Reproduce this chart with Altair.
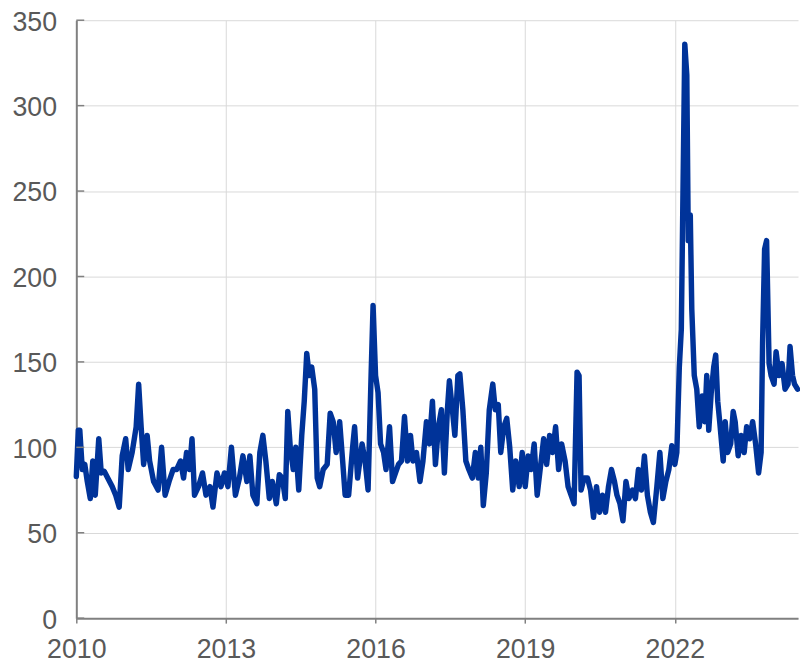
import altair as alt
import pandas as pd

# decimal years since 2010 and index values
t = [0.00,0.04,0.07,0.12,0.17,0.22,0.28,0.33,0.38,0.45,0.50,0.56,0.63,0.72,0.79,0.86,0.92,0.99,
     1.04,1.12,1.20,1.25,1.30,1.35,1.42,1.47,1.55,1.64,1.71,1.78,1.86,1.94,
     2.01,2.09,2.15,2.21,2.27,2.32,2.37,2.45,2.53,2.60,2.68,2.74,2.82,2.90,2.97,
     3.04,3.11,3.19,3.27,3.34,3.42,3.48,3.54,3.62,3.68,3.74,3.80,3.87,3.93,
     4.01,4.07,4.13,4.19,4.24,4.29,4.35,4.40,4.46,4.52,4.57,4.62,4.67,4.72,4.78,4.83,4.88,4.95,
     5.03,5.09,5.15,5.21,5.28,5.34,5.39,5.46,5.54,5.58,5.64,5.73,5.79,5.85,5.91,5.95,
     6.00,6.05,6.10,6.16,6.21,6.28,6.34,6.40,6.46,6.52,6.58,6.64,6.70,6.75,6.82,6.89,6.95,
     7.02,7.08,7.14,7.20,7.26,7.32,7.38,7.44,7.48,7.54,7.59,7.65,7.69,7.75,7.81,7.87,7.94,
     8.00,8.06,8.11,8.16,8.22,8.28,8.35,8.40,8.46,8.51,8.57,8.63,8.69,8.75,8.81,8.88,8.94,
     9.00,9.06,9.12,9.18,9.24,9.30,9.37,9.43,9.49,9.55,9.61,9.67,9.73,9.80,9.86,9.92,9.98,
     10.04,10.08,10.12,10.18,10.25,10.31,10.37,10.43,10.49,10.55,10.61,10.67,10.73,10.79,10.84,10.90,10.96,
     11.02,11.08,11.15,11.21,11.27,11.33,11.39,11.45,11.51,11.57,11.64,11.70,11.76,11.82,11.88,11.94,
     12.00,12.04,12.09,12.13,12.16,12.20,12.24,12.27,12.31,12.34,12.39,12.44,12.49,12.55,12.60,12.64,12.68,
     12.73,12.78,12.82,12.86,12.90,12.97,
     13.01,13.06,13.12,13.17,13.21,13.27,13.33,13.39,13.44,13.50,13.56,13.62,13.68,13.73,13.76,13.80,13.84,13.89,13.93,13.99,
     14.03,14.09,14.15,14.21,14.27,14.31,14.36,14.40,14.46]
values = [83,110,110,87,90,80,70,92,72,105,85,86,82,77,72,65,95,105,
          87,97,112,137,112,90,107,92,80,75,100,72,80,87,
          87,92,82,97,87,105,72,77,85,72,77,65,85,77,85,
          77,100,72,82,95,80,95,72,67,97,107,92,70,80,
          67,84,82,70,121,100,87,100,75,107,127,155,142,147,134,82,77,87,
          90,120,115,97,115,92,72,72,100,112,82,102,92,75,142,183,
          142,132,102,97,87,112,80,85,90,92,118,92,107,92,97,80,92,
          115,102,127,90,112,122,85,122,139,122,107,142,143,122,92,87,82,
          97,82,100,66,85,122,137,122,125,97,112,117,100,75,92,77,97,
          77,95,87,102,72,87,105,90,107,97,112,87,102,92,77,72,67,
          144,142,75,82,82,75,59,77,62,72,62,77,87,80,72,67,57,
          80,70,75,70,87,75,95,72,62,56,77,97,70,80,87,101,
          90,97,147,169,241,336,318,221,236,181,142,134,112,130,115,142,110,
          132,147,154,127,115,92,
          115,97,102,121,115,95,107,97,112,105,115,102,85,97,162,216,221,149,142,137,
          156,142,149,134,137,159,142,137,134]

years = [2010 + v for v in t]
df = pd.DataFrame({"year": years, "value": values})

y_ticks = [0, 50, 100, 150, 200, 250, 300, 350]
x_ticks = [2010, 2013, 2016, 2019, 2022]

line = alt.Chart(df).mark_line(
    color="#003399", strokeWidth=5.5, strokeJoin="round", strokeCap="round"
).encode(
    x=alt.X("year:Q",
            scale=alt.Scale(domain=[2010, 2024.47], nice=False, zero=False),
            axis=alt.Axis(values=x_ticks, format="d", title=None,
                          labelFontSize=27, labelColor="#595959", labelFont="Liberation Sans",
                          labelPadding=14, tickSize=5, tickColor="#808080", tickWidth=1.5,
                          domainColor="#808080", domainWidth=2,
                          gridColor="#d9d9d9", gridWidth=1, labelFlush=False)),
    y=alt.Y("value:Q",
            scale=alt.Scale(domain=[0, 350], nice=False),
            axis=alt.Axis(values=y_ticks, title=None,
                          labelFontSize=27, labelColor="#595959", labelFont="Liberation Sans",
                          labelPadding=20, labelOffset=2, ticks=False,
                          domainColor="#808080", domainWidth=2,
                          gridColor="#d9d9d9", gridWidth=1)),
)

ticks_df = pd.DataFrame({"v": y_ticks})
yticks = alt.Chart(ticks_df).mark_rule(color="#808080", strokeWidth=1.5).encode(
    y="v:Q", x=alt.value(0), x2=alt.value(8)
)

chart = alt.layer(line, yticks).properties(
    width=729, height=604,
    autosize=alt.AutoSizeParams(type="none"),
    padding={"left": 69, "top": 9, "right": 2, "bottom": 48},
).configure_view(stroke=None)

chart.save("out.html", embed_options={"renderer": "svg", "actions": False})
